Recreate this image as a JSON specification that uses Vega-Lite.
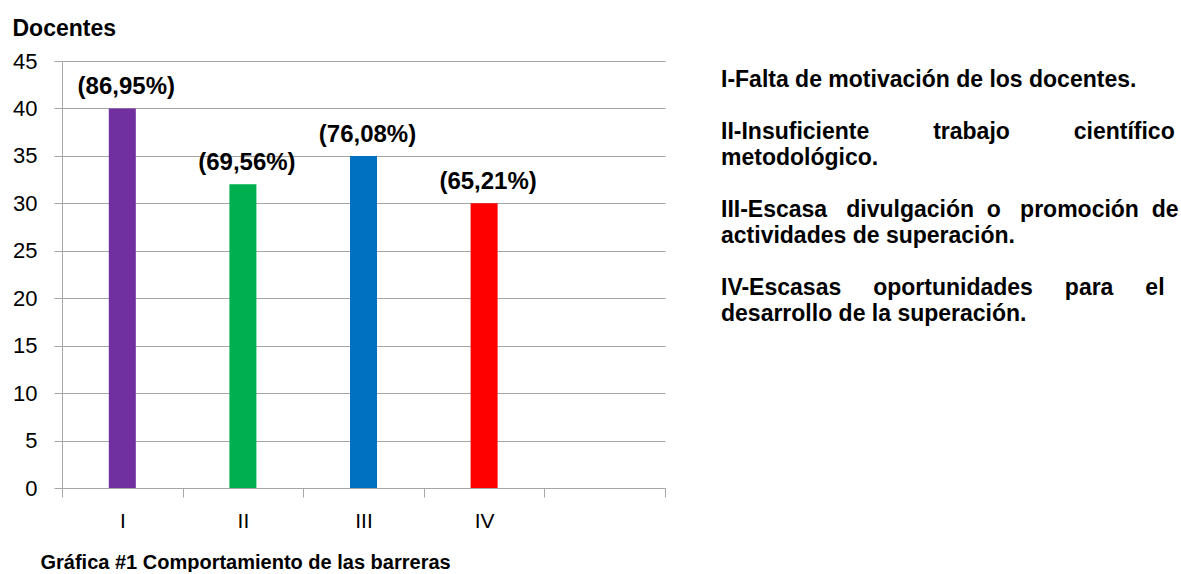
{
  "$schema": "https://vega.github.io/schema/vega-lite/v6.json",
  "padding": {"left": 12, "top": 17, "right": 0, "bottom": 0},
  "background": "white",
  "config": {"font": "Liberation Sans", "view": {"stroke": null}},
  "datasets": {
    "barreras": [
      {"barrera": "I", "docentes": 40, "porcentaje": "(86,95%)"},
      {"barrera": "II", "docentes": 32, "porcentaje": "(69,56%)"},
      {"barrera": "III", "docentes": 35, "porcentaje": "(76,08%)"},
      {"barrera": "IV", "docentes": 30, "porcentaje": "(65,21%)"}
    ],
    "notas": [
      {"renglon": 0, "texto": "I-Falta de motivación de los docentes."},
      {"renglon": 2, "texto": "II-Insuficiente\u00a0\u00a0\u00a0\u00a0\u00a0\u00a0\u00a0\u00a0\u00a0\u00a0trabajo\u00a0\u00a0\u00a0\u00a0\u00a0\u00a0\u00a0\u00a0\u00a0\u00a0científico"},
      {"renglon": 3, "texto": "metodológico."},
      {"renglon": 5, "texto": "III-Escasa\u00a0\u00a0\u00a0divulgación\u00a0\u00a0o\u00a0\u00a0\u00a0promoción\u00a0\u00a0de"},
      {"renglon": 6, "texto": "actividades de superación."},
      {"renglon": 8, "texto": "IV-Escasas\u00a0\u00a0\u00a0\u00a0\u00a0oportunidades\u00a0\u00a0\u00a0\u00a0\u00a0para\u00a0\u00a0\u00a0\u00a0\u00a0el"},
      {"renglon": 9, "texto": "desarrollo de la superación."}
    ]
  },
  "spacing": 55,
  "hconcat": [
    {
      "width": 603,
      "height": 427,
      "data": {"name": "barreras"},
      "encoding": {
        "x": {
          "field": "barrera",
          "type": "nominal",
          "scale": {"domain": ["I", "II", "III", "IV", " "], "paddingInner": 0, "paddingOuter": 0},
          "axis": {
            "title": "Gráfica #1 Comportamiento de las barreras",
            "titleFontSize": 20,
            "titleFontWeight": "bold",
            "titleColor": "#000000",
            "titleX": -22,
            "titleY": 74,
            "titleAlign": "left",
            "titleBaseline": "middle",
            "labelAngle": 0,
            "labelFontSize": 21,
            "labelColor": "#000000",
            "labelPadding": 13,
            "tickBand": "extent",
            "tickSize": 9,
            "tickColor": "#a6a6a6",
            "domainColor": "#a6a6a6",
            "grid": false
          }
        },
        "y": {
          "field": "docentes",
          "type": "quantitative",
          "scale": {"domain": [0, 45], "nice": false},
          "axis": {
            "values": [0, 5, 10, 15, 20, 25, 30, 35, 40, 45],
            "grid": true,
            "gridColor": "#a6a6a6",
            "tickSize": 8,
            "tickColor": "#a6a6a6",
            "domainColor": "#a6a6a6",
            "labelFontSize": 22,
            "labelColor": "#000000",
            "labelPadding": 17,
            "title": "Docentes",
            "titleAngle": 0,
            "titleAlign": "left",
            "titleBaseline": "middle",
            "titleX": -50,
            "titleY": -33,
            "titleFontSize": 23,
            "titleFontWeight": "bold",
            "titleColor": "#000000"
          }
        }
      },
      "layer": [
        {
          "mark": {"type": "bar", "width": {"band": 0.224}},
          "encoding": {
            "color": {
              "field": "barrera",
              "type": "nominal",
              "scale": {"domain": ["I", "II", "III", "IV"], "range": ["#7030A0", "#00B050", "#0070C0", "#FF0000"]},
              "legend": null
            }
          }
        },
        {
          "mark": {"type": "text", "fontSize": 24, "fontWeight": "bold", "dy": -21, "dx": 4, "baseline": "middle", "color": "#000000"},
          "encoding": {"text": {"field": "porcentaje"}}
        }
      ]
    },
    {
      "width": 461,
      "height": 427,
      "data": {"name": "notas"},
      "mark": {"type": "text", "align": "left", "baseline": "middle", "fontSize": 23, "fontWeight": "bold", "dy": 19, "color": "#000000"},
      "encoding": {
        "x": {"datum": 0, "type": "quantitative", "scale": {"domain": [0, 1]}, "axis": null},
        "y": {"field": "renglon", "type": "quantitative", "scale": {"domain": [0, 16.42], "reverse": true}, "axis": null},
        "text": {"field": "texto"}
      }
    }
  ]
}
